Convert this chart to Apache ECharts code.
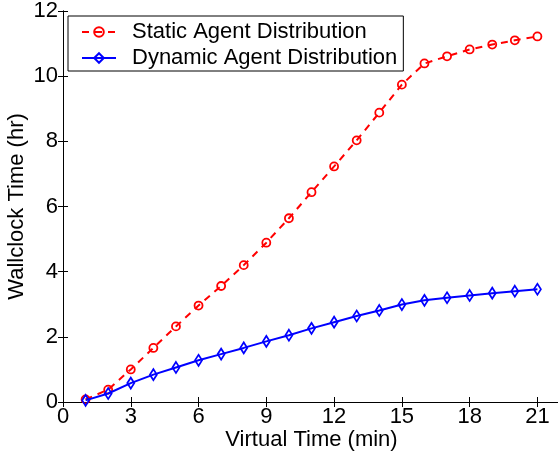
<!DOCTYPE html>
<html>
<head>
<meta charset="utf-8">
<script src="https://cdn.jsdelivr.net/npm/echarts@6/dist/echarts.min.js"></script>
<style>html,body{margin:0;padding:0;background:#fff}#c{width:558px;height:454px}</style>
</head>
<body>
<div id="c"></div>
<script>
var virtualTime = [1,2,3,4,5,6,7,8,9,10,11,12,13,14,15,16,17,18,19,20,21];
var staticDist = [0.08,0.38,1.00,1.66,2.32,2.96,3.56,4.20,4.89,5.64,6.44,7.23,8.03,8.88,9.74,10.39,10.61,10.82,10.97,11.10,11.22];
var dynamicDist = [0.05,0.26,0.58,0.84,1.06,1.28,1.47,1.66,1.86,2.05,2.26,2.45,2.64,2.81,2.99,3.12,3.20,3.27,3.34,3.40,3.46];
var seriesNames = ['Static Agent Distribution','Dynamic Agent Distribution'];
var xTitle = 'Virtual Time (min)';
var yTitle = 'Wallclock Time (hr)';

var FONT = 'Liberation Sans, Arial, sans-serif';
var FS = 22;
var chart = echarts.init(document.getElementById('c'), null, {renderer:'canvas'});
function pairs(ys){ return virtualTime.map(function(x,i){return [x, ys[i]];}); }
var axisLine = {show:true, lineStyle:{color:'#000', width:1}};
var tick = {show:true, inside:true, length:5, lineStyle:{color:'#000', width:1}};
chart.setOption({
  animation:false,
  backgroundColor:'#fff',
  grid:{left:63, top:11, width:497, height:391, containLabel:false, outerBoundsMode:'none'},
  legend:{
    orient:'vertical', left:68, top:16,
    borderColor:'#000', borderWidth:1, backgroundColor:'#fff',
    padding:[5,6,2,13], itemGap:4, itemWidth:34, itemHeight:12,
    textStyle:{fontFamily:FONT, fontSize:FS, color:'#000', padding:[0,0,0,11]},
    data:seriesNames
  },
  xAxis:[
    {type:'value', min:0, max:22, interval:3, position:'bottom',
     name:xTitle, nameLocation:'middle', nameGap:27, nameMoveOverlap:false,
     nameTextStyle:{fontFamily:FONT, fontSize:FS, color:'#000'},
     axisLine:axisLine, axisTick:tick, splitLine:{show:false},
     axisLabel:{fontFamily:FONT, fontSize:FS, color:'#000', margin:4,
       formatter:function(v){return v===22?'':String(v);}}},
    {type:'value', min:0, max:22, interval:3, position:'top',
     axisLine:axisLine, axisTick:tick, splitLine:{show:false}, axisLabel:{show:false}}
  ],
  yAxis:[
    {type:'value', min:0, max:12, interval:2, position:'left',
     name:yTitle, nameLocation:'middle', nameGap:35, nameMoveOverlap:false,
     nameTextStyle:{fontFamily:FONT, fontSize:FS, color:'#000'},
     axisLine:axisLine, axisTick:tick, splitLine:{show:false},
     axisLabel:{fontFamily:FONT, fontSize:FS, color:'#000', margin:5}},
    {type:'value', min:0, max:12, interval:2, position:'right',
     axisLine:axisLine, axisTick:tick, splitLine:{show:false}, axisLabel:{show:false}}
  ],
  series:[
    {name:seriesNames[0], type:'line', data:pairs(staticDist),
     symbol:'circle', symbolSize:8, showAllSymbol:true,
     itemStyle:{color:'rgba(255,255,255,0)', borderColor:'#ff0000', borderWidth:1.8},
     lineStyle:{color:'#ff0000', width:2, type:[7,6]}, z:2},
    {name:seriesNames[1], type:'line', data:pairs(dynamicDist),
     symbol:'diamond', symbolSize:[7,11], showAllSymbol:true,
     itemStyle:{color:'rgba(255,255,255,0)', borderColor:'#0000ff', borderWidth:1.8},
     lineStyle:{color:'#0000ff', width:2, type:'solid'}, z:3}
  ]
});
</script>
</body>
</html>
